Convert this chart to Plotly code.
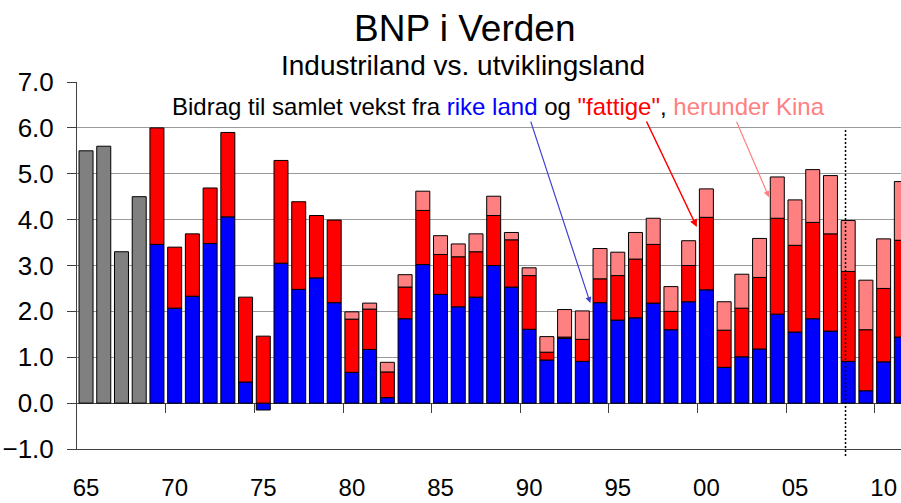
import plotly.graph_objects as go

# ---- data ----
years_gray = [1965, 1966, 1967, 1968]
world_total_early = [5.5, 5.6, 3.3, 4.5]

years = list(range(1969, 2012))
rich = [3.46, 2.07, 2.33, 3.48, 4.06, 0.46, -0.15, 3.05, 2.48, 2.73, 2.19,
        0.67, 1.17, 0.12, 1.84, 3.02, 2.37, 2.10, 2.31, 3.00, 2.53,
        1.61, 0.94, 1.41, 0.91, 2.19, 1.81, 1.86, 2.18, 1.60, 2.21,
        2.47, 0.78, 1.01, 1.18, 1.94, 1.55, 1.84, 1.57, 0.91, 0.27,
        0.90, 1.44]
poor = [2.54, 1.33, 1.36, 1.21, 1.84, 1.85, 1.46, 2.24, 1.91, 1.36, 1.80,
        1.16, 0.88, 0.56, 0.69, 1.18, 0.87, 1.09, 0.99, 1.09, 1.03,
        1.17, 0.17, 0.03, 0.48, 0.52, 0.97, 1.28, 1.28, 0.40, 0.79,
        1.58, 0.81, 1.06, 1.56, 2.09, 1.89, 2.10, 2.12, 1.96, 1.33,
        1.60, 2.11]
china = [None] * 11 + [
        0.16, 0.13, 0.21, 0.27, 0.42, 0.41, 0.28, 0.39, 0.42, 0.16,
        0.17, 0.34, 0.60, 0.62, 0.66, 0.51, 0.58, 0.57, 0.54, 0.54,
        0.62, 0.62, 0.74, 0.85, 0.90, 0.99, 1.15, 1.27, 1.11, 1.08,
        1.08, 1.28]

tick_years = [1965, 1970, 1975, 1980, 1985, 1990, 1995, 2000, 2005, 2010]
tick_labels = ["65", "70", "75", "80", "85", "90", "95", "00", "05", "10"]
forecast_start = 2007.85

FONT = "Liberation Sans, Arial, sans-serif"
line = dict(color="black", width=1)

fig = go.Figure()
fig.add_trace(go.Bar(x=years_gray, y=world_total_early, marker=dict(color="#808080", line=line),
                     showlegend=False, hoverinfo="skip"))
fig.add_trace(go.Bar(x=years, y=rich, marker=dict(color="#0000FF", line=line),
                     showlegend=False, name="rike land"))
fig.add_trace(go.Bar(x=years, y=poor, marker=dict(color="#FF0000", line=line),
                     showlegend=False, name="fattige"))
fig.add_trace(go.Bar(x=years, y=china, marker=dict(color="#FF8080", line=line),
                     showlegend=False, name="Kina"))
# dummy trace for the tick axis at zero
fig.add_trace(go.Scatter(x=[None], y=[None], xaxis="x2", yaxis="y", showlegend=False,
                         hoverinfo="skip"))

xr = [1964.49, 2010.98]
fig.update_layout(
    width=901, height=503,
    margin=dict(l=77, r=0, t=82, b=54, autoexpand=False),
    paper_bgcolor="white", plot_bgcolor="white",
    barmode="relative", bargap=0.21,
    font=dict(family=FONT, color="black"),
    xaxis=dict(range=xr, tickvals=tick_years, ticktext=tick_labels, ticks="",
               showgrid=False, zeroline=False, showline=True, linecolor="#404040",
               linewidth=1, tickfont=dict(size=24), ticklabelstandoff=17, automargin=False),
    xaxis2=dict(range=xr, overlaying="x", anchor="free", position=0.125, side="bottom",
                tickvals=[y - 0.5 for y in tick_years[1:]], ticks="outside", ticklen=9,
                tickcolor="#404040", tickwidth=1, showticklabels=False,
                showgrid=False, zeroline=False, showline=False, automargin=False),
    yaxis=dict(range=[-1, 7], dtick=1, tick0=0, tickformat=".1f", ticks="outside",
               ticklen=9, tickcolor="#404040", showline=True, linecolor="#404040",
               linewidth=1, showgrid=True, gridcolor="#9a9a9a", gridwidth=1.3,
               zeroline=True, zerolinecolor="#404040", zerolinewidth=1,
               tickfont=dict(size=26), ticklabelstandoff=8, automargin=False),
)

fig.add_shape(type="line", xref="x", yref="paper", x0=forecast_start, x1=forecast_start,
              y0=-0.019, y1=0.869, line=dict(color="black", width=1.5, dash="2px,2px"))

fig.add_annotation(xref="paper", yref="paper", x=0.4697, y=1.146, text="BNP i Verden",
                   showarrow=False, font=dict(size=37, family=FONT), xanchor="center", yanchor="middle")
fig.add_annotation(xref="paper", yref="paper", x=0.4682, y=1.045,
                   text="Industriland vs. utviklingsland",
                   showarrow=False, font=dict(size=28, family=FONT), xanchor="center", yanchor="middle")
fig.add_annotation(xref="paper", yref="paper", x=0.1129, y=0.932, xanchor="left", yanchor="middle",
                   showarrow=False, font=dict(size=24, family=FONT),
                   text="Bidrag til samlet vekst fra <span style='color:#0000FF'>rike land</span> og "
                        "<span style='color:#FF0000'>\"fattige\"</span>, "
                        "<span style='color:#FF8080'>herunder Kina</span>")

# arrows
fig.add_annotation(x=1993.45, y=2.18, xref="x", yref="y", ax=-60, ay=-183, showarrow=True,
                   arrowhead=2, arrowsize=1, arrowwidth=1.2, arrowcolor="#4040D0", text="")
fig.add_annotation(x=1999.46, y=3.84, xref="x", yref="y", ax=-51, ay=-107, showarrow=True,
                   arrowhead=2, arrowsize=1, arrowwidth=1.5, arrowcolor="#FF0000", text="")
fig.add_annotation(x=2003.53, y=4.49, xref="x", yref="y", ax=-33, ay=-77, showarrow=True,
                   arrowhead=2, arrowsize=1, arrowwidth=1.2, arrowcolor="#FF8080", text="")

fig.write_html(
    "out.html",
    config={"displayModeBar": False},
    post_script="document.documentElement.style.margin='0';document.body.style.margin='0';"
                "document.documentElement.style.overflow='hidden';document.body.style.overflow='hidden';",
)
